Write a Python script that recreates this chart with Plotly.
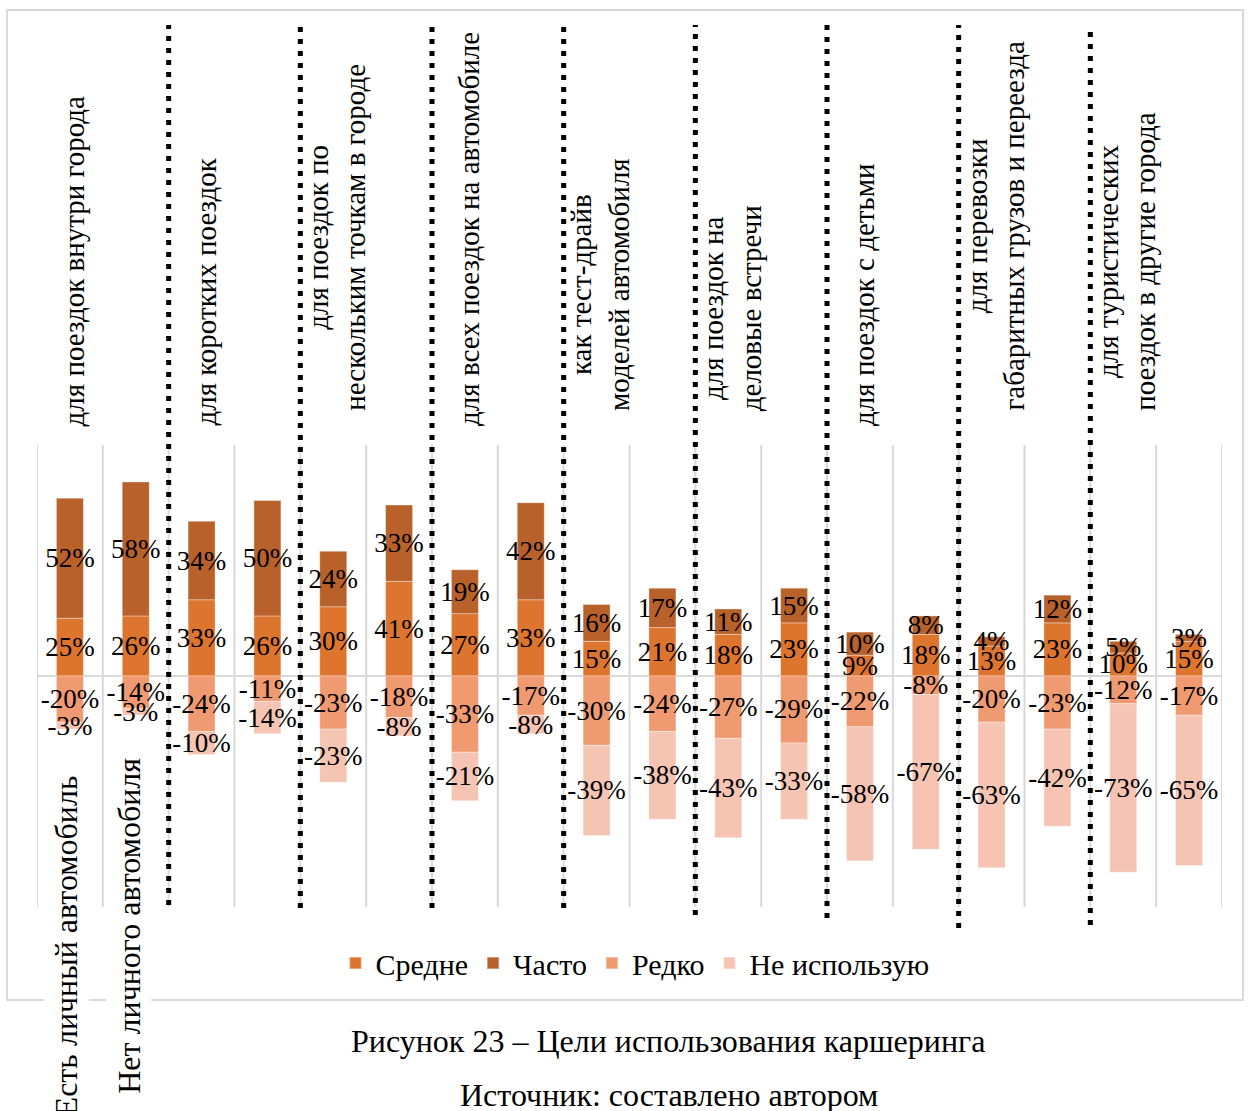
import plotly.graph_objects as go

# ---- data ----
categories = [
    "для поездок внутри города",
    "для коротких поездок",
    "для поездок по<br>нескольким точкам в городе",
    "для всех поездок на автомобиле",
    "как тест-драйв<br>моделей автомобиля",
    "для поездок на<br>деловые встречи",
    "для поездок с детьми",
    "для перевозки<br>габаритных грузов и переезда",
    "для туристических<br>поездок в другие города",
]
groups = ["Есть личный автомобиль", "Нет личного автомобиля"]
series_names = ["Средне", "Часто", "Редко", "Не использую"]
sredne = [25, 26, 33, 26, 30, 41, 27, 33, 15, 21, 18, 23, 9, 18, 13, 23, 10, 15]
chasto = [52, 58, 34, 50, 24, 33, 19, 42, 16, 17, 11, 15, 10, 8, 4, 12, 5, 3]
redko = [-20, -14, -24, -11, -23, -18, -33, -17, -30, -24, -27, -29, -22, -8, -20, -23, -12, -17]
ne_isp = [-3, -3, -10, -14, -23, -8, -21, -8, -39, -38, -43, -33, -58, -67, -63, -42, -73, -65]
caption = "Рисунок 23 – Цели использования каршеринга"
source = "Источник: составлено автором"

# ---- layout geometry (pixels) ----
W, H = 1250, 1111
L, R, T, B = 37, 1222, 445, 907
FONT = "Liberation Serif"


def px(x):
    return (x - L) / (R - L)


def py(y):
    return (B - y) / (B - T)


colors = ["#DE752F", "#B8612A", "#EF9A70", "#F5C4B2"]
values = [sredne, chasto, redko, ne_isp]
n = len(sredne)
xs = list(range(n))

fig = go.Figure()
for name, vals, col in zip(series_names, values, colors):
    fig.add_trace(go.Bar(
        x=xs, y=vals, name=name,
        marker=dict(color=col, line=dict(color="rgba(255,255,255,0.35)", width=1)),
        width=0.41,
        text=[f"{v}%" for v in vals],
        textposition="inside",
        insidetextanchor="middle",
        constraintext="none",
        textangle=0,
        textfont=dict(family=FONT, size=27, color="black"),
        cliponaxis=False,
        hoverinfo="skip",
    ))

shapes = []
# outer chart border
shapes.append(dict(type="rect", xref="paper", yref="paper",
                   x0=px(7), x1=px(1243), y0=py(1000), y1=py(10),
                   line=dict(color="#D9D9D9", width=2), fillcolor="rgba(0,0,0,0)",
                   layer="below"))
# vertical light gridlines at every bar boundary
for i in range(n + 1):
    shapes.append(dict(type="line", xref="x", yref="paper",
                       x0=i - 0.5, x1=i - 0.5, y0=0, y1=1,
                       line=dict(color="#D9D9D9", width=2), layer="below"))
# dotted separators between categories
dot_bottoms = [905, 908, 908, 908, 915, 918, 928, 925]
for k, yb in enumerate(dot_bottoms):
    xb = 2 * (k + 1) - 0.5
    shapes.append(dict(type="line", xref="x", yref="paper",
                       x0=xb, x1=xb, y0=py(yb), y1=py(25),
                       line=dict(color="black", width=5, dash="5px,7px"),
                       layer="above"))

annotations = []
# category labels (rotated)
for i, cat in enumerate(categories):
    two = "<br>" in cat
    annotations.append(dict(
        x=2 * i, xref="x", xshift=4,
        y=py(413 if two else 428), yref="paper",
        text=cat, textangle=-90, showarrow=False,
        xanchor="center", yanchor="bottom", align="center",
        font=dict(family=FONT, size=29, color="black"),
    ))
# group labels under first pair
grp_tops = [770, 753]
grp_shift = [-4, -7]
for j, g in enumerate(groups):
    annotations.append(dict(
        x=j, xref="x", xshift=grp_shift[j],
        y=py(grp_tops[j]), yref="paper",
        text=g, textangle=-90, showarrow=False,
        xanchor="center", yanchor="top",
        bgcolor="white", borderpad=4,
        font=dict(family=FONT, size=32, color="black"),
    ))
annotations.append(dict(x=px(668), y=py(1041), xref="paper", yref="paper",
                        text=caption, showarrow=False, xanchor="center", yanchor="middle",
                        font=dict(family=FONT, size=32, color="black")))
annotations.append(dict(x=px(669), y=py(1095), xref="paper", yref="paper",
                        text=source, showarrow=False, xanchor="center", yanchor="middle",
                        font=dict(family=FONT, size=32, color="black")))

fig.update_layout(
    width=W, height=H,
    margin=dict(l=L, r=W - R, t=T, b=H - B, pad=0),
    barmode="relative",
    paper_bgcolor="white", plot_bgcolor="rgba(0,0,0,0)",
    showlegend=True,
    legend=dict(orientation="h", x=px(635), xanchor="center", y=py(963), yanchor="middle",
                font=dict(family=FONT, size=30, color="black"),
                itemsizing="constant", traceorder="normal", itemwidth=30),
    xaxis=dict(range=[-0.5, n - 0.5], showgrid=False, zeroline=False,
               showticklabels=False, ticks="", showline=False, fixedrange=True),
    yaxis=dict(range=[-100, 100], showgrid=False, zeroline=True,
               zerolinecolor="#D9D9D9", zerolinewidth=2,
               showticklabels=False, ticks="", showline=False),
    shapes=shapes,
    annotations=annotations,
    font=dict(family=FONT),
)

fig.write_html("out.html")
